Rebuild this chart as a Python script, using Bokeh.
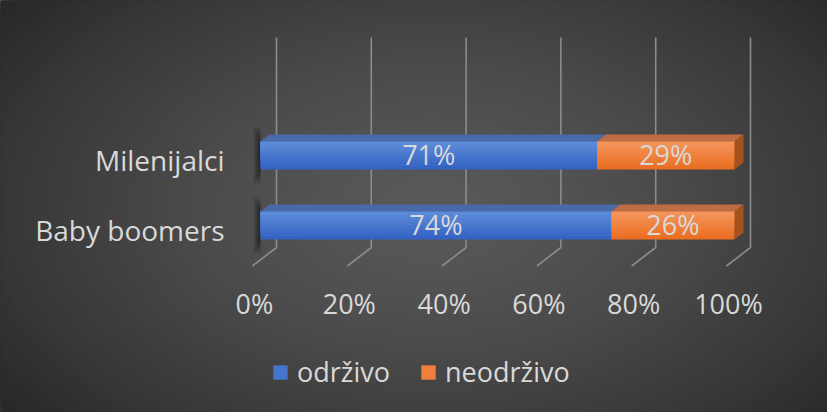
import numpy as np
from bokeh.plotting import figure
from bokeh.models import Range1d, Legend, LegendItem
from bokeh.core.properties import value
from bokeh.embed import file_html
from bokeh.resources import INLINE

# ---------------- data ----------------
categories = ["Baby boomers", "Milenijalci"]
series_names = ["održivo", "neodrživo"]
odrzivo = [74, 71]
neodrzivo = [26, 29]
ticks = [0, 20, 40, 60, 80, 100]
tick_labels = ["0%", "20%", "40%", "60%", "80%", "100%"]

# ---------------- layout (page pixels) ----------------
W, H = 827, 412
PAGE_L, PAGE_T = 8, 8
BAR_X0, BAR_X100 = 268, 742
PX_PER = (BAR_X100 - BAR_X0) / 100.0
ROW0_Y, ROW_STEP = 233, 70

def ux(px):
    return px / PX_PER

def uy(px):
    return px / ROW_STEP

def row_of(page_y):
    return (ROW0_Y - page_y) / ROW_STEP

FONT = value("Open Sans")
FS = value("27px")
TXT = "#d9d9d9"

p = figure(width=W, height=H,
           x_range=Range1d((PAGE_L - BAR_X0) / PX_PER, (PAGE_L + W - BAR_X0) / PX_PER),
           y_range=Range1d(row_of(PAGE_T + H), row_of(PAGE_T)),
           output_backend="svg", toolbar_location=None,
           x_axis_location=None, y_axis_location=None, min_border=0)
p.outline_line_color = None
p.xgrid.visible = False
p.ygrid.visible = False
p.background_fill_color = "#282828"
p.border_fill_color = "#282828"
p.extra_x_ranges = {"px": Range1d(PAGE_L, PAGE_L + W)}
p.extra_y_ranges = {"py": Range1d(PAGE_T + H, PAGE_T)}

# ---------------- radial background gradient ----------------
CX, CY, RX, RY = 440, 215, 500, 300
rs = np.linspace(1.15, 0.01, 60)
def shade(r):
    t = min(r, 1.1) ** 1.5 / 1.1 ** 1.5
    c = int(round(0x58 - (0x58 - 0x28) * t))
    return "#%02x%02x%02x" % (c, c, c)
p.ellipse(x=[CX] * len(rs), y=[CY] * len(rs), width=list(2 * RX * rs), height=list(2 * RY * rs),
          fill_color=[shade(r) for r in rs], line_color=None,
          x_range_name="px", y_range_name="py")

# ---------------- gridlines (back wall + floor) ----------------
back_off = ux(284 - BAR_X0)
front_off = ux(260 - BAR_X0)
y_top = row_of(45)
y_floor_back = row_of(255)
y_floor_front = row_of(273.5)
p.multi_line(xs=[[t + back_off, t + back_off, t + front_off] for t in ticks],
             ys=[[y_top, y_floor_back, y_floor_front] for _ in ticks],
             line_color="#8c8c8c", line_width=1.6)

# ---------------- bars ----------------
rows = list(range(len(categories)))
BAR_H = uy(28)
DX, DY = ux(9), uy(7)

# soft left shadow
for k in range(6):
    ext = uy(14 - 2.5 * k)
    p.quad(left=[-ux(7 - 1.1 * k)] * len(rows), right=[0] * len(rows),
           top=[r + BAR_H / 2 + ext for r in rows], bottom=[r - BAR_H / 2 - ext for r in rows],
           fill_color="black", fill_alpha=0.09, line_color=None)

def grad(c1, c2, n):
    a = np.array([int(c1[i:i + 2], 16) for i in (1, 3, 5)], float)
    b = np.array([int(c2[i:i + 2], 16) for i in (1, 3, 5)], float)
    out = []
    for t in np.linspace(0, 1, n):
        c = a + (b - a) * t
        out.append("#%02x%02x%02x" % tuple(int(round(v)) for v in c))
    return out

NS = 8
blue_cols = grad("#5c8bd8", "#3463c4", NS)
orng_cols = grad("#f4945a", "#eb6f22", NS)
left_b = [0] * len(rows)
right_b = odrzivo
left_o = odrzivo
right_o = [a + b for a, b in zip(odrzivo, neodrzivo)]
top_edge = [r + BAR_H / 2 for r in rows]
legend_r = [None, None]
# overlapping stack: full bar in the bottom colour, then shorter lighter bands from the top
for s in range(NS - 1, -1, -1):
    bottom = [t - BAR_H * (s + 1) / NS for t in top_edge]
    rb = p.quad(left=left_b, right=right_b, top=top_edge, bottom=bottom,
                fill_color=blue_cols[s], line_color=None)
    ro = p.quad(left=left_o, right=right_o, top=top_edge, bottom=bottom,
                fill_color=orng_cols[s], line_color=None)
    if s == NS // 2:
        legend_r = [rb, ro]

# top faces
def top_face(l, r, row):
    yb = row + BAR_H / 2
    return [l, l + DX, r + DX, r], [yb, yb + DY, yb + DY, yb]

xs_b, ys_b, xs_o, ys_o = [], [], [], []
for i, row in enumerate(rows):
    x, y = top_face(left_b[i], right_b[i], row)
    xs_b.append(x); ys_b.append(y)
    x, y = top_face(left_o[i], right_o[i], row)
    xs_o.append(x); ys_o.append(y)
p.patches(xs=xs_b, ys=ys_b, fill_color="#4a69a8", line_color=None)
p.patches(xs=xs_o, ys=ys_o, fill_color="#bd6c44", line_color=None)

# right side faces
xs_s, ys_s = [], []
for i, row in enumerate(rows):
    r = right_o[i]
    xs_s.append([r, r + DX, r + DX, r])
    ys_s.append([row + BAR_H / 2, row + BAR_H / 2 + DY, row - BAR_H / 2 + DY, row - BAR_H / 2])
p.patches(xs=xs_s, ys=ys_s, fill_color="#a5531d", line_color=None)

# ---------------- data labels ----------------
mid_b = [v / 2 for v in odrzivo]
mid_o = [a + b / 2 for a, b in zip(odrzivo, neodrzivo)]
p.text(x=mid_b + mid_o, y=rows + rows, text=[f"{v}%" for v in odrzivo + neodrzivo],
       text_align="center", text_baseline="alphabetic", y_offset=-1,
       text_font=FONT, text_font_size=FS, text_color=TXT)

# ---------------- category labels ----------------
p.text(x=[232] * len(rows), y=rows, text=categories, x_range_name="px",
       text_align="right", text_baseline="alphabetic", y_offset=4,
       text_font=FONT, text_font_size=value("28px"), text_color=TXT)

# ---------------- x tick labels ----------------
p.text(x=ticks, y=[311] * len(ticks), y_range_name="py", x_offset=-6, text=tick_labels,
       text_align="center", text_baseline="alphabetic",
       text_font=FONT, text_font_size=FS, text_color=TXT)

# ---------------- legend ----------------
legend = Legend(items=[LegendItem(label=series_names[0], renderers=[legend_r[0]]),
                       LegendItem(label=series_names[1], renderers=[legend_r[1]])],
                orientation="horizontal", location=(271, 22),
                padding=0, margin=0, spacing=29, label_standoff=8,
                glyph_width=18, glyph_height=18,
                label_text_font="Open Sans", label_text_font_size="27px",
                label_text_color=TXT, background_fill_alpha=0, border_line_alpha=0)
p.add_layout(legend, "center")

open("out.html", "w").write(file_html(p, INLINE))
